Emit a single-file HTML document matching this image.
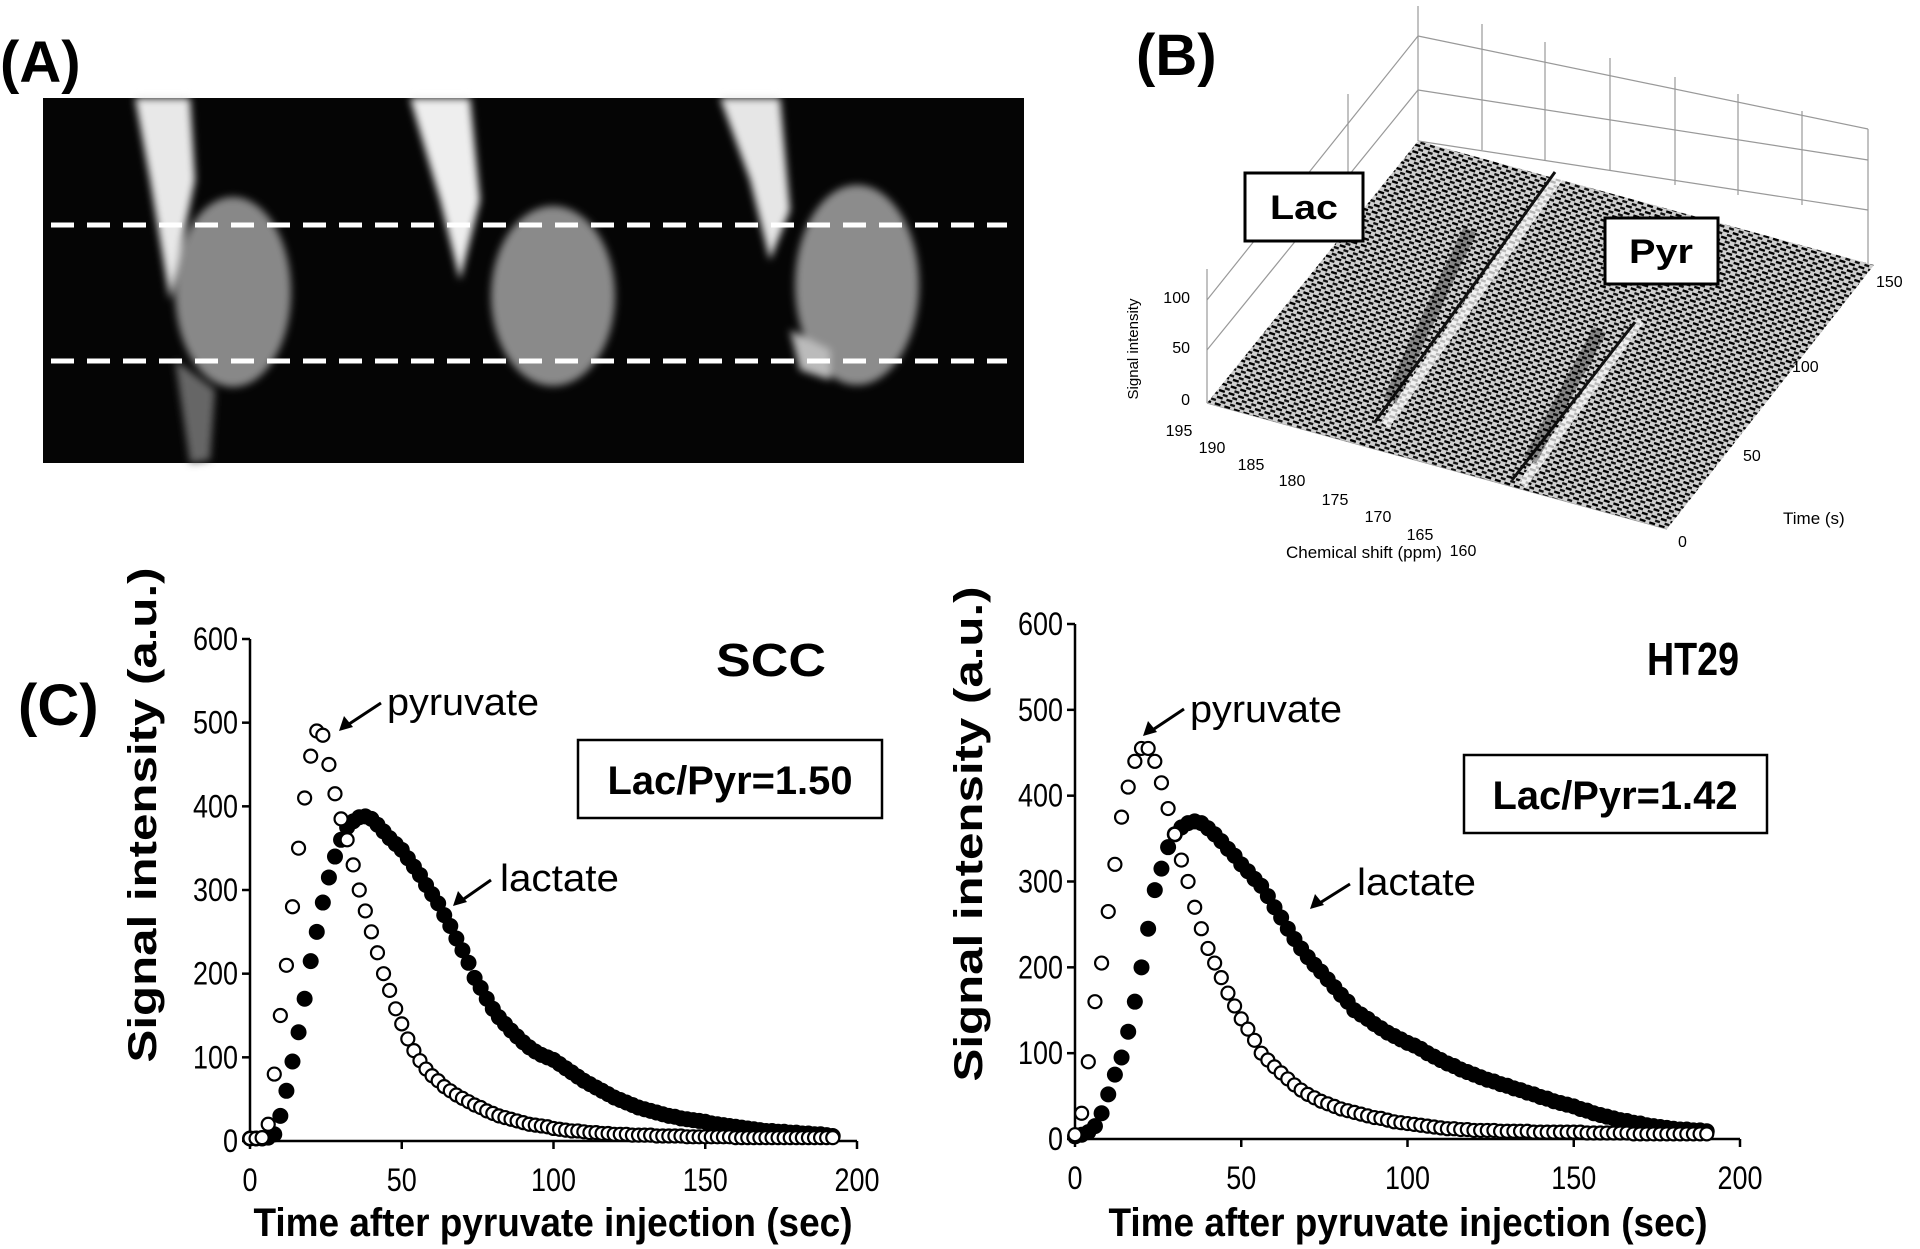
<!DOCTYPE html>
<html><head><meta charset="utf-8"><style>
html,body{margin:0;padding:0;background:#fff;}
svg{display:block;}
text{font-family:"Liberation Sans",sans-serif;fill:#000;}
</style></head><body>
<svg id="fig" width="1920" height="1249" viewBox="0 0 1920 1249" xmlns="http://www.w3.org/2000/svg">
<defs>
<filter id="blur4"><feGaussianBlur stdDeviation="4"/></filter>
<pattern id="noise" width="10" height="7" patternUnits="userSpaceOnUse" patternTransform="rotate(18)">
<rect width="10" height="7" fill="#cfcfcf"/><rect x="0" y="0" width="6" height="2.4" fill="#000"/><rect x="5" y="3.5" width="5" height="2.4" fill="#111"/>
</pattern>
</defs>

<!-- Panel A -->
<text x="0" y="82" font-size="58" font-weight="bold">(A)</text>
<g>
<rect x="43" y="98" width="981" height="365" fill="#050505"/>
<g filter="url(#blur4)">
<path d="M135,98 L190,98 L195,180 L170,300 L160,240 L150,180 Z" fill="#e8e8e8"/>
<ellipse cx="233" cy="292" rx="58" ry="95" fill="#888"/>
<path d="M175,360 L215,390 L210,460 L190,463 Z" fill="#666"/>
<path d="M410,98 L470,98 L480,200 L460,280 L440,200 Z" fill="#eeeeee"/>
<ellipse cx="553" cy="296" rx="62" ry="90" fill="#8a8a8a"/>
<path d="M720,98 L780,98 L790,210 L770,260 L750,180 Z" fill="#e6e6e6"/>
<ellipse cx="857" cy="285" rx="62" ry="100" fill="#8c8c8c"/>
<path d="M790,330 L830,350 L830,380 L800,370 Z" fill="#bbb"/>
</g>
<line x1="51" y1="225" x2="1007" y2="225" stroke="#fff" stroke-width="5" stroke-dasharray="23,13"/>
<line x1="51" y1="361" x2="1007" y2="361" stroke="#fff" stroke-width="5" stroke-dasharray="23,13"/>
</g>

<!-- Panel B -->
<text x="1136" y="75" font-size="58" font-weight="bold">(B)</text>
<g stroke="#999" stroke-width="1.2" fill="none">
<line x1="1418" y1="6" x2="1418" y2="141"/>
<line x1="1418" y1="36" x2="1868" y2="129"/>
<line x1="1418" y1="90" x2="1868" y2="160"/>
<line x1="1418" y1="141" x2="1868" y2="210"/>
<line x1="1418" y1="36" x2="1207" y2="300"/>
<line x1="1418" y1="90" x2="1207" y2="350"/>
<line x1="1207" y1="269" x2="1207" y2="403"/>
<line x1="1348" y1="94" x2="1348" y2="230"/>
<line x1="1482" y1="24" x2="1482" y2="150"/>
<line x1="1545" y1="42" x2="1545" y2="160"/>
<line x1="1610" y1="58" x2="1610" y2="170"/>
<line x1="1675" y1="77" x2="1675" y2="185"/>
<line x1="1738" y1="94" x2="1738" y2="195"/>
<line x1="1802" y1="111" x2="1802" y2="205"/>
<line x1="1868" y1="129" x2="1868" y2="265"/>
<line x1="1207" y1="403" x2="1667" y2="529"/>
<polygon points="1207,403 1418,141 1874,265 1667,529" fill="url(#noise)" stroke="none"/>
<path d="M1560,175 L1385,425" stroke="#fff" stroke-width="10" opacity="0.7"/>
<path d="M1555,172 L1375,422" stroke="#111" stroke-width="3"/>
<path d="M1640,320 L1522,485" stroke="#fff" stroke-width="9" opacity="0.7"/>
<path d="M1635,322 L1512,480" stroke="#111" stroke-width="3"/>
<path d="M1470,230 L1390,400" stroke="#000" stroke-width="14" opacity="0.35"/>
<path d="M1600,330 L1530,460" stroke="#000" stroke-width="14" opacity="0.35"/>
</g>
<g><rect x="1245" y="173" width="118" height="68" fill="#fff" stroke="#000" stroke-width="3"/>
<text x="1304" y="219" font-size="34" font-weight="bold" text-anchor="middle" textLength="68" lengthAdjust="spacingAndGlyphs">Lac</text></g>
<g><rect x="1605" y="218" width="113" height="66" fill="#fff" stroke="#000" stroke-width="3"/>
<text x="1661" y="263" font-size="34" font-weight="bold" text-anchor="middle" textLength="64" lengthAdjust="spacingAndGlyphs">Pyr</text></g>
<g font-size="16">
<text transform="translate(1138,349) rotate(-90)" text-anchor="middle" font-size="15">Signal intensity</text>
<text x="1190" y="405" text-anchor="end">0</text><text x="1190" y="353" text-anchor="end">50</text><text x="1190" y="303" text-anchor="end">100</text>
<text x="1179" y="436" text-anchor="middle">195</text><text x="1212" y="453" text-anchor="middle">190</text>
<text x="1251" y="470" text-anchor="middle">185</text><text x="1292" y="486" text-anchor="middle">180</text>
<text x="1335" y="505" text-anchor="middle">175</text><text x="1378" y="522" text-anchor="middle">170</text>
<text x="1420" y="540" text-anchor="middle">165</text><text x="1463" y="556" text-anchor="middle">160</text>
<text x="1286" y="558" font-size="17">Chemical shift (ppm)</text>
<text x="1678" y="547">0</text><text x="1743" y="461">50</text><text x="1792" y="372">100</text><text x="1876" y="287">150</text>
<text x="1783" y="524" font-size="17">Time (s)</text>
</g>

<!-- Panel C -->
<text x="18" y="725" font-size="58" font-weight="bold">(C)</text>
<g id="chart1"></g>
<g id="chart2"></g>

<text x="716" y="676" font-size="46" font-weight="bold" textLength="110" lengthAdjust="spacingAndGlyphs">SCC</text>
<g><rect x="578" y="740" width="304" height="78" fill="#fff" stroke="#000" stroke-width="2.5"/>
<text x="730" y="794" font-size="40" font-weight="bold" text-anchor="middle" textLength="245" lengthAdjust="spacingAndGlyphs">Lac/Pyr=1.50</text></g>
<text x="387" y="715" font-size="38" textLength="152" lengthAdjust="spacingAndGlyphs">pyruvate</text>
<line x1="381" y1="703" x2="343" y2="728" stroke="#000" stroke-width="3"/>
<path d="M339,731 L344,716 L353,727 Z" fill="#000"/>
<text x="500" y="891" font-size="38" textLength="119" lengthAdjust="spacingAndGlyphs">lactate</text>
<line x1="491" y1="880" x2="458" y2="903" stroke="#000" stroke-width="3"/>
<path d="M453,906 L458,891 L467,902 Z" fill="#000"/>

<text x="1647" y="675" font-size="46" font-weight="bold" textLength="92" lengthAdjust="spacingAndGlyphs">HT29</text>
<g><rect x="1464" y="755" width="303" height="78" fill="#fff" stroke="#000" stroke-width="2.5"/>
<text x="1615" y="809" font-size="40" font-weight="bold" text-anchor="middle" textLength="245" lengthAdjust="spacingAndGlyphs">Lac/Pyr=1.42</text></g>
<text x="1190" y="722" font-size="38" textLength="152" lengthAdjust="spacingAndGlyphs">pyruvate</text>
<line x1="1184" y1="709" x2="1148" y2="733" stroke="#000" stroke-width="3"/>
<path d="M1143,736 L1148,721 L1157,732 Z" fill="#000"/>
<text x="1357" y="895" font-size="38" textLength="119" lengthAdjust="spacingAndGlyphs">lactate</text>
<line x1="1350" y1="884" x2="1315" y2="906" stroke="#000" stroke-width="3"/>
<path d="M1310,909 L1315,894 L1324,905 Z" fill="#000"/>
</svg>
<script>
const NS='http://www.w3.org/2000/svg';
const xTicks=[0,50,100,150,200];
const yTicks=[0,100,200,300,400,500,600];
const sccTimes=[0,2,4,6,8,10,12,14,16,18,20,22,24,26,28,30,32,34,36,38,40,42,44,46,48,50,52,54,56,58,60,62,64,66,68,70,72,74,76,78,80,82,84,86,88,90,92,94,96,98,100,102,104,106,108,110,112,114,116,118,120,122,124,126,128,130,132,134,136,138,140,142,144,146,148,150,152,154,156,158,160,162,164,166,168,170,172,174,176,178,180,182,184,186,188,190,192];
const sccPyruvate=[3,3,4,20,80,150,210,280,350,410,460,490,485,450,415,385,360,330,300,275,250,225,200,180,158,140,122,108,96,86,78,72,65,60,55,51,47,43,40,36,33,30,28,26,24,22,20,19,18,17,15,14,13,12,12,11,10,10,9,9,8,8,8,7,7,7,7,6,6,6,6,6,5,5,5,5,5,5,5,5,4,4,4,4,4,4,4,4,4,4,4,4,4,4,4,4,4];
const sccLactate=[3,3,3,4,8,30,60,95,130,170,215,250,285,315,340,360,375,382,387,388,385,378,370,362,355,348,338,328,318,306,295,284,270,257,242,228,213,195,183,170,158,148,140,132,125,118,112,107,103,100,97,92,87,82,77,72,68,64,60,56,52,49,46,43,40,38,36,34,32,30,29,27,26,25,24,23,21,20,19,18,17,16,15,14,13,12,12,11,11,10,10,9,9,8,8,7,6];
const htTimes=[0,2,4,6,8,10,12,14,16,18,20,22,24,26,28,30,32,34,36,38,40,42,44,46,48,50,52,54,56,58,60,62,64,66,68,70,72,74,76,78,80,82,84,86,88,90,92,94,96,98,100,102,104,106,108,110,112,114,116,118,120,122,124,126,128,130,132,134,136,138,140,142,144,146,148,150,152,154,156,158,160,162,164,166,168,170,172,174,176,178,180,182,184,186,188,190];
const htPyruvate=[5,30,90,160,205,265,320,375,410,440,455,455,440,415,385,355,325,300,270,245,222,205,188,170,155,140,128,115,100,92,84,77,70,63,57,52,48,44,41,38,35,33,31,29,27,25,24,22,20,19,18,17,16,15,14,13,12,12,11,11,10,10,10,10,9,9,9,9,9,8,8,8,8,8,8,8,8,7,7,7,7,7,7,7,6,6,6,6,6,6,6,6,6,6,6,6];
const htLactate=[3,5,8,15,30,52,75,95,125,160,200,245,290,315,340,355,363,368,370,368,362,355,347,338,330,320,312,303,295,283,270,258,245,233,222,212,203,195,186,177,168,160,150,145,140,134,129,124,120,116,112,109,105,100,96,92,88,85,81,78,75,72,69,67,64,62,59,57,54,52,49,47,44,42,40,38,35,33,30,28,26,24,22,21,19,18,16,15,14,13,12,11,11,10,10,9];

function mk(tag,attrs,parent){const e=document.createElementNS(NS,tag);for(const k in attrs)e.setAttribute(k,attrs[k]);parent.appendChild(e);return e;}

function drawChart(g,ax,prefix,times,pyr,lac){
  const sx=v=>ax.x0+(v-0)/200*(ax.x1-ax.x0);
  const sy=v=>ax.y0-(v/600)*(ax.y0-ax.y1);
  const axes=mk('path',{d:`M${ax.x0},${ax.y1} L${ax.x0},${ax.y0} L${ax.x1},${ax.y0}`,stroke:'#000','stroke-width':2.5,fill:'none'},g);
  
  
  yTicks.forEach(v=>{
    mk('line',{x1:ax.x0-8,x2:ax.x0,y1:sy(v),y2:sy(v),stroke:'#000','stroke-width':2.5},g);
    const t=mk('text',{x:ax.x0-12,y:sy(v)+11,'font-size':32,'text-anchor':'end',textLength:String(v).length*15,lengthAdjust:'spacingAndGlyphs'},g);
    t.textContent=v;
    
    
  });
  xTicks.forEach(v=>{
    mk('line',{x1:sx(v),x2:sx(v),y1:ax.y0,y2:ax.y0+8,stroke:'#000','stroke-width':2.5},g);
    const t=mk('text',{x:sx(v),y:ax.y0+50,'font-size':32,'text-anchor':'middle',textLength:String(v).length*15,lengthAdjust:'spacingAndGlyphs'},g);
    t.textContent=v;
    
    
  });
  const yt=mk('text',{transform:`translate(${ax.ytx},${ax.yty}) rotate(-90)`,'font-size':40,'font-weight':'bold','text-anchor':'middle',textLength:495,lengthAdjust:'spacingAndGlyphs'},g);
  yt.textContent='Signal intensity (a.u.)';
  
  
  const xt=mk('text',{x:ax.xtx,y:1236,'font-size':40,'font-weight':'bold','text-anchor':'middle',textLength:599,lengthAdjust:'spacingAndGlyphs'},g);
  xt.textContent='Time after pyruvate injection (sec)';
  
  
  times.forEach((t,i)=>{
    const c=mk('circle',{cx:sx(t),cy:sy(lac[i]),r:8,fill:'#000'},g);
    
    
  });
  times.forEach((t,i)=>{
    const c=mk('circle',{cx:sx(t),cy:sy(pyr[i]),r:6.5,fill:'#fff',stroke:'#000','stroke-width':2.2},g);
    
    
  });
}
drawChart(document.getElementById('chart1'),{x0:250,x1:857,y0:1141,y1:639,ytx:156,yty:815,xtx:553},'scc',sccTimes,sccPyruvate,sccLactate);
drawChart(document.getElementById('chart2'),{x0:1075,x1:1740,y0:1139,y1:624,ytx:982,yty:834,xtx:1408},'ht29',htTimes,htPyruvate,htLactate);
</script>
</body></html>
